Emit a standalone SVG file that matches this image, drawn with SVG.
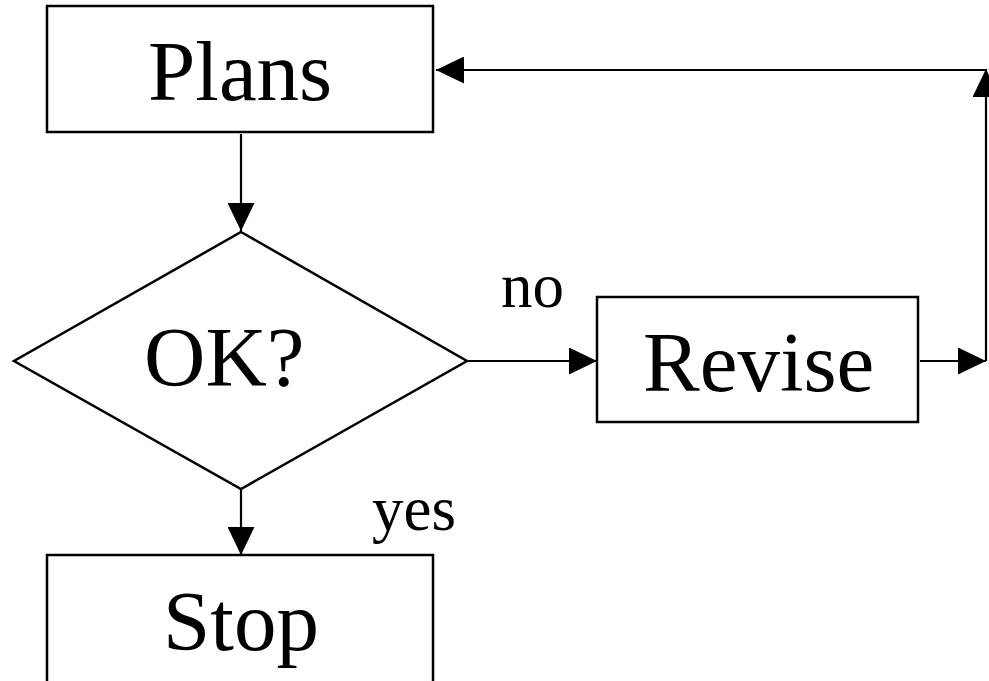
<svg xmlns="http://www.w3.org/2000/svg" width="989" height="681" viewBox="0 0 989 681">
  <defs>
    <style>
      .box { fill: #fff; stroke: #000; stroke-width: 2.5; }
      .conn { fill: none; stroke: #000; stroke-width: 2.2; }
      .big { font-family: "Liberation Serif", "Times New Roman", serif; font-size: 85px; fill: #000; }
      .lbl { font-family: "Liberation Serif", "Times New Roman", serif; font-size: 63px; fill: #000; }
    </style>
    <marker id="arrow" markerUnits="userSpaceOnUse" markerWidth="28" markerHeight="27" refX="28" refY="13.5" orient="auto">
      <path d="M0,0 L28,13.5 L0,27 Z" fill="#000"/>
    </marker>
  </defs>
  <rect width="989" height="681" fill="#fff"/>

  <!-- connectors -->
  <g id="connectors">
    <path class="conn" d="M241,134 L241,231" marker-end="url(#arrow)"/>
    <path class="conn" d="M467,361 L597,361" marker-end="url(#arrow)"/>
    <path class="conn" d="M241,489 L241,555" marker-end="url(#arrow)"/>
    <path class="conn" d="M920,361 L986,361" marker-end="url(#arrow)"/>
    <path class="conn" d="M986,361 L986,69" marker-end="url(#arrow)"/>
    <path class="conn" d="M986,70 L436,70" marker-end="url(#arrow)"/>
  </g>

  <!-- nodes -->
  <g id="plans">
    <rect class="box" x="47" y="6" width="386" height="126"/>
    <text class="big" x="148" y="100">Plans</text>
  </g>
  <g id="ok">
    <polygon class="box" points="241,232 467,361 241,489 14,361"/>
    <text class="big" x="144" y="386">OK?</text>
  </g>
  <g id="revise">
    <rect class="box" x="597" y="297" width="321" height="125"/>
    <text class="big" x="643" y="391">Revise</text>
  </g>
  <g id="stop">
    <rect class="box" x="47" y="555" width="386" height="140"/>
    <text class="big" x="163" y="650">Stop</text>
  </g>

  <!-- branch labels -->
  <text class="lbl" x="501" y="307">no</text>
  <text class="lbl" x="372" y="530">yes</text>
</svg>
